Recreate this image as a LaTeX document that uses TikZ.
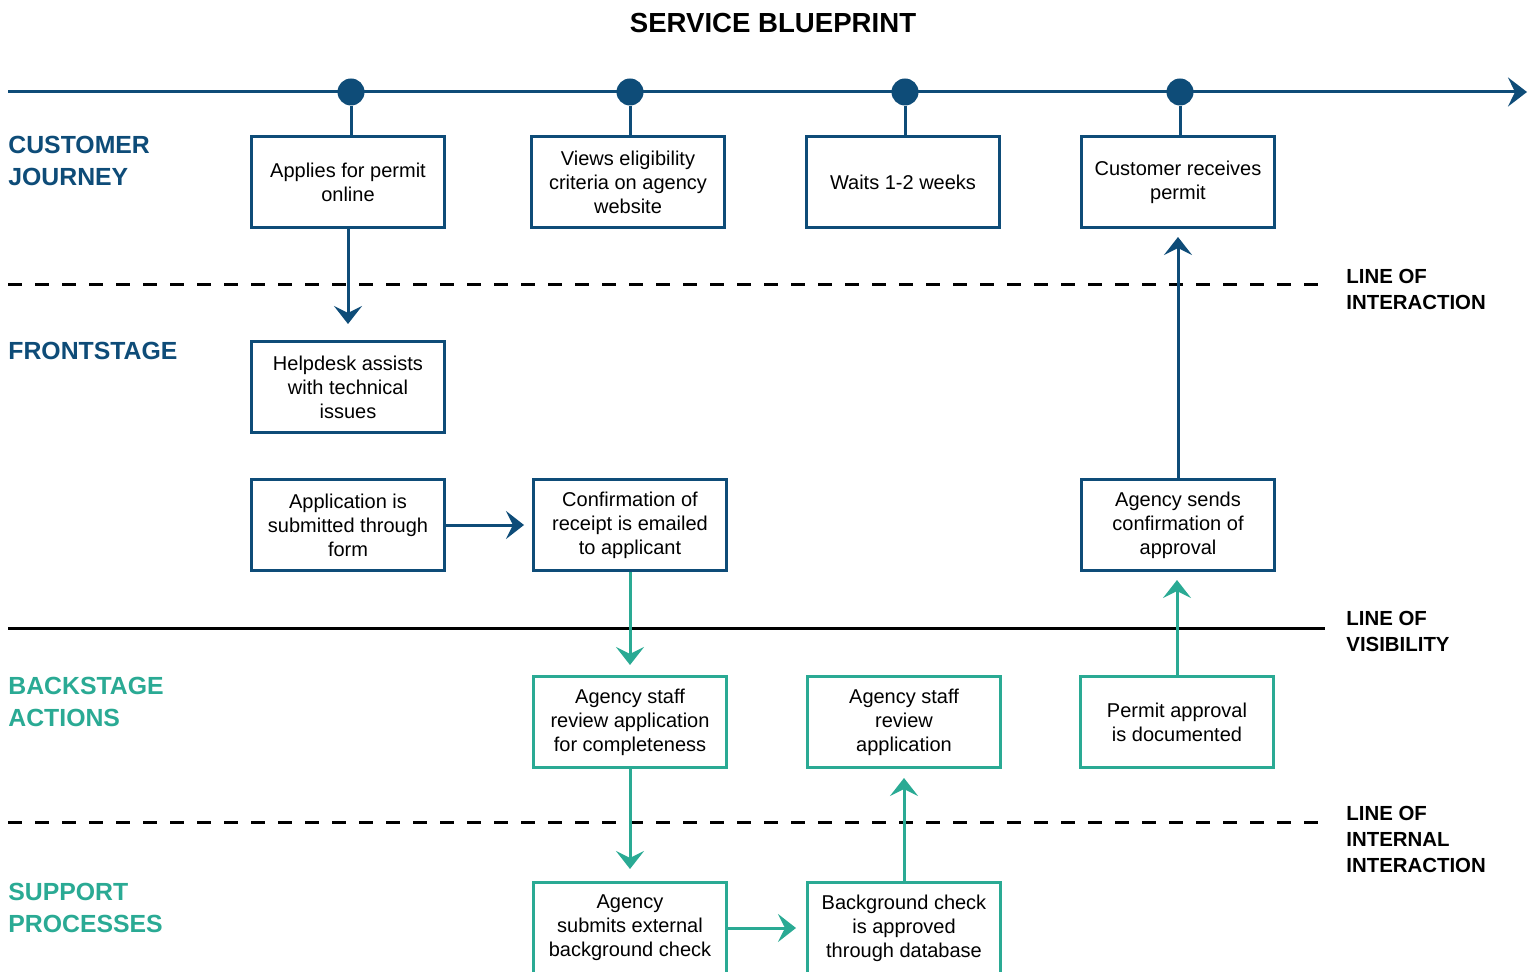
\documentclass[tikz,border=0pt]{standalone}
\usepackage{fontspec}
\setmainfont{Liberation Sans}
\usetikzlibrary{positioning,arrows.meta,calc}

\definecolor{bpblue}{HTML}{0E4C78}
\definecolor{bpteal}{HTML}{2AAA94}

\tikzset{
  box/.style={draw=bpblue, line width=1.5pt, fill=white, minimum width=96.5pt,
    minimum height=45.5pt, align=center, inner sep=2pt,
    font=\fontsize{10}{12}\selectfont},
  backbox/.style={box, draw=bpteal},
  dot/.style={circle, fill=bpblue, minimum size=13.5pt, inner sep=0pt},
  flow/.style={draw=bpblue, line width=1.5pt,
    -{Stealth[length=9pt, width=14pt, inset=3.5pt]}},
  backflow/.style={flow, draw=bpteal, -{Stealth[length=9pt, width=14pt, inset=3.5pt, fill=bpteal]}},
  lane/.style={anchor=west, inner sep=0pt, align=left,
    font=\bfseries\fontsize{12.4}{16}\selectfont},
  divider/.style={anchor=west, inner sep=0pt, align=left,
    font=\bfseries\fontsize{10.2}{13}\selectfont},
  boundary/.style={line width=1.5pt, dash pattern=on 7pt off 6.5pt}
}

\begin{document}
\begin{tikzpicture}[x=0.5pt, y=-0.5pt]
    \useasboundingbox (0,0) rectangle (1535,972);

    \node[font=\bfseries\fontsize{13.8}{16}\selectfont] (title) at (773,23) {SERVICE BLUEPRINT};

    \coordinate (t0) at (8,92);
    \coordinate (t1) at (1527,92);
    \draw[flow, -{Stealth[length=9.5pt, width=14.5pt, inset=3.5pt, fill=bpblue]}] (t0) -- (t1);

    \node[lane, bpblue] (journey) at (8,161) {CUSTOMER\\JOURNEY};
    \node[lane, bpblue] (front) at (8,351) {FRONTSTAGE};
    \node[lane, bpteal] (back) at (8,702) {BACKSTAGE\\ACTIONS};
    \node[lane, bpteal] (support) at (8,908) {SUPPORT\\PROCESSES};

    \coordinate (li0) at (8,285);
    \coordinate (li1) at (1325,285);
    \coordinate (lv0) at (8,628);
    \coordinate (lv1) at (1325,628);
    \coordinate (lx0) at (8,822);
    \coordinate (lx1) at (1325,822);
    \draw[boundary] (li0) -- (li1);
    \draw[line width=1.5pt] (lv0) -- (lv1);
    \draw[boundary] (lx0) -- (lx1);

    \node[divider] (interaction) at (1346,289) {LINE OF\\INTERACTION};
    \node[divider] (visibility) at (1346,631) {LINE OF\\VISIBILITY};
    \node[divider] (internal) at (1346,839) {LINE OF\\INTERNAL\\INTERACTION};

    \node[box] (apply) at (348,182) {Applies for permit\\online};
    \node[box, right=42pt of apply] (views) {Views eligibility\\criteria on agency\\website};
    \node[box, right=39.5pt of views] (waits) {Waits 1-2 weeks};
    \node[box, right=39.5pt of waits] (receive) {Customer receives\\permit};

    \node[dot] (d1) at ($(apply.north |- t0)+(3,0)$) {};
    \node[dot] (d2) at ($(views.north |- t0)+(2,0)$) {};
    \node[dot] (d3) at ($(waits.north |- t0)+(2,0)$) {};
    \node[dot] (d4) at ($(receive.north |- t0)+(2,0)$) {};

    \foreach \d/\b in {d1/apply, d2/views, d3/waits, d4/receive}
      \draw[bpblue, line width=1.5pt] (\d) -- (\d |- \b.north);

    \node[box, below=55.5pt of apply] (helpdesk) {Helpdesk assists\\with technical\\issues};
    \node[box, below=22pt of helpdesk] (submit) {Application is\\submitted through\\form};
    \node[box, right=43pt of submit] (confirm) {Confirmation of\\receipt is emailed\\to applicant};
    \node[box, below=124.5pt of receive] (sends) {Agency sends\\confirmation of\\approval};

    \node[backbox, below=51.5pt of confirm] (review) {Agency staff\\review application\\for completeness};
    \node[backbox, right=39pt of review] (staff) {Agency staff\\review\\application};
    \node[backbox, right=38.5pt of staff] (record) {Permit approval\\is documented};

    \node[backbox, below=56pt of review] (external) {Agency\\submits external\\background check};
    \node[backbox, right=39pt of external] (database) {Background check\\is approved\\through database};

    \draw[flow, shorten >=8pt] (apply) -- (helpdesk);
    \draw[flow, shorten >=4pt] (submit) -- (confirm);
    \draw[flow, shorten >=4pt] (sends.north) -- (sends.north |- receive.south);
    \draw[backflow, shorten >=5pt] (confirm.south -| review.north) -- (review.north);
    \draw[backflow, shorten >=4pt] (record.north) -- (record.north |- sends.south);
    \draw[backflow, shorten >=6pt] (review) -- (external);
    \draw[backflow, shorten >=5pt] (external) -- (database);
    \draw[backflow, shorten >=4.5pt] (database) -- (staff);
\end{tikzpicture}
\end{document}
